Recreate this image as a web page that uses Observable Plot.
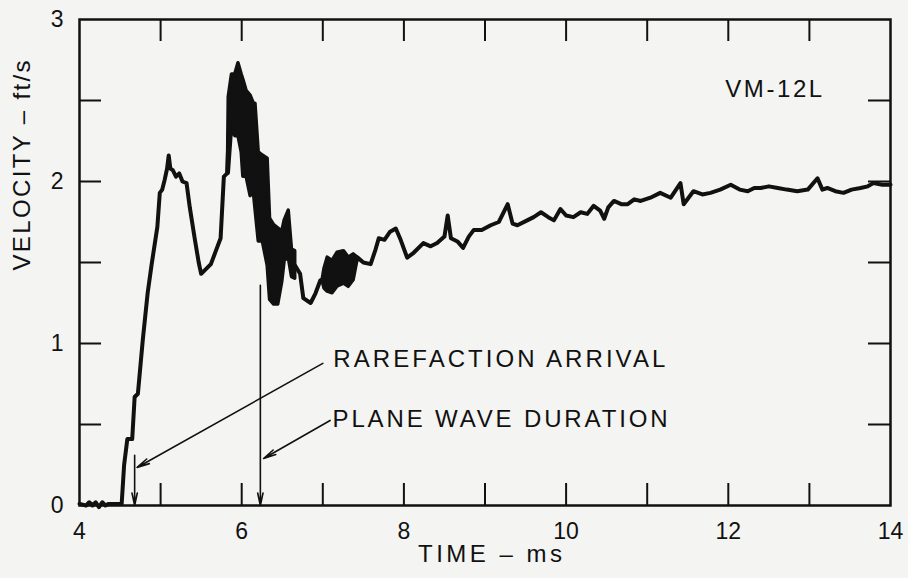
<!DOCTYPE html>
<html><head><meta charset="utf-8">
<script src="https://cdn.jsdelivr.net/npm/d3@7"></script>
<script src="https://cdn.jsdelivr.net/npm/@observablehq/plot@0.6"></script>
<style>
html,body{margin:0;padding:0;background:#f4f4f2;}
#chart svg{display:block;}
</style></head><body><div id="chart"></div>
<script>
// ---- data ----
const timeMs = [4.00,4.08,4.12,4.16,4.20,4.24,4.28,4.32,4.36,4.52,4.55,4.59,4.65,4.68,4.72,4.78,4.84,4.89,4.96,4.99,
5.02,5.05,5.08,5.10,5.12,5.15,5.19,5.23,5.27,5.32,5.36,5.42,5.47,5.50,5.54,5.58,5.62,5.68,5.74,5.78,
5.82,5.84,5.88,5.92,5.96,6.00,6.02,6.06,6.11,6.15,6.17,6.21,6.26,6.32,6.35,6.40,6.45,6.50,6.53,6.58,
6.62,6.66,6.72,6.76,6.85,6.91,6.97,7.02,7.06,7.12,7.18,7.26,7.32,7.38,7.43,7.50,7.59,7.65,7.69,7.76,
7.83,7.90,7.96,8.04,8.12,8.24,8.33,8.41,8.50,8.54,8.58,8.66,8.73,8.80,8.86,8.96,9.07,9.17,9.28,9.34,
9.40,9.52,9.60,9.69,9.78,9.85,9.93,10.00,10.09,10.18,10.26,10.34,10.42,10.47,10.52,10.59,10.68,10.76,10.84,10.92,
11.04,11.16,11.29,11.41,11.45,11.57,11.68,11.78,11.90,12.03,12.14,12.24,12.32,12.40,12.50,12.61,12.72,12.85,12.98,13.10,
13.16,13.22,13.32,13.42,13.52,13.63,13.72,13.79,13.90,14.00];
const velocity = [0.01,0.00,0.02,0.00,0.02,-0.01,0.02,0.00,0.01,0.01,0.25,0.41,0.41,0.67,0.69,1.02,1.31,1.49,1.72,1.93,
1.95,2.01,2.08,2.16,2.08,2.07,2.03,2.05,2.00,1.99,1.84,1.65,1.50,1.43,1.45,1.47,1.49,1.57,1.65,2.03,
2.05,2.30,2.50,2.48,2.52,2.42,2.33,2.30,2.22,2.21,2.16,1.91,1.90,1.82,1.52,1.48,1.47,1.54,1.64,1.68,
1.50,1.48,1.43,1.28,1.25,1.31,1.39,1.40,1.42,1.41,1.45,1.47,1.44,1.47,1.53,1.50,1.49,1.58,1.65,1.64,
1.69,1.71,1.64,1.53,1.56,1.62,1.60,1.62,1.66,1.79,1.65,1.63,1.59,1.66,1.70,1.70,1.73,1.75,1.86,1.74,
1.73,1.76,1.78,1.81,1.78,1.76,1.83,1.79,1.78,1.81,1.80,1.85,1.82,1.77,1.84,1.88,1.86,1.86,1.89,1.88,
1.90,1.93,1.90,1.99,1.86,1.94,1.92,1.93,1.95,1.98,1.95,1.94,1.96,1.96,1.97,1.96,1.95,1.94,1.95,2.02,
1.95,1.96,1.94,1.93,1.95,1.96,1.97,1.99,1.98,1.98];

// noisy (filled) portions of the trace: envelope low/high
const bandSegment = ["a","a","a","a","a","a","a","a","a","a","a","a","a","a","a","a","a","a","a","a","a","a",
"b","b","b","b","b","b","b","b","b"];
const bandTime = [5.83,5.84,5.88,5.92,5.96,6.00,6.02,6.06,6.11,6.15,6.17,6.21,6.26,6.32,6.35,6.40,6.45,6.50,6.53,6.58,6.62,6.66,
7.00,7.02,7.06,7.12,7.18,7.26,7.32,7.38,7.43];
const bandLow = [2.05,2.05,2.33,2.28,2.28,2.18,2.03,2.03,1.91,1.93,1.83,1.63,1.63,1.48,1.27,1.24,1.24,1.38,1.51,1.53,1.41,1.40,
1.38,1.34,1.32,1.31,1.35,1.37,1.35,1.39,1.52];
const bandHigh = [2.05,2.52,2.66,2.66,2.73,2.66,2.63,2.56,2.53,2.48,2.48,2.18,2.16,2.14,1.77,1.73,1.71,1.69,1.76,1.82,1.58,1.57,
1.40,1.46,1.53,1.51,1.56,1.57,1.53,1.55,1.53];

// axes
const xLabelTicks = [4, 6, 8, 10, 12, 14];
const xMinorTicks = [5, 6, 7, 8, 9, 10, 11, 12, 13];
const yLabelTicks = [0, 1, 2, 3];
const yMinorTicks = [0.5, 1, 1.5, 2, 2.5];
const xTitle = "TIME – ms";
const yTitle = "VELOCITY – ft/s";
const gaugeName = "VM-12L";

// annotations
const noteText = ["RAREFACTION ARRIVAL", "PLANE WAVE DURATION"];
const noteTime = [7.13, 7.12];
const noteVel = [0.905, 0.53];
const arrowT1 = [4.68, 6.23, 7.00, 7.09];
const arrowV1 = [0.31, 1.36, 0.877, 0.525];
const arrowT2 = [4.68, 6.23, 4.71, 6.27];
const arrowV2 = [0.0, 0.0, 0.235, 0.29];

// ---- tables ----
const trace = timeMs.map((t, i) => ({t, v: velocity[i]}));
const band = bandTime.map((t, i) => ({t, lo: bandLow[i], hi: bandHigh[i], s: bandSegment[i]}));
const notes = noteText.map((text, i) => ({text, t: noteTime[i], v: noteVel[i]}));
const arrows = arrowT1.map((t1, i) => ({t1, v1: arrowV1[i], t2: arrowT2[i], v2: arrowV2[i]}));

const ink = "#111";
const chart = Plot.plot({
  width: 908, height: 578,
  marginLeft: 79, marginRight: 18, marginTop: 19, marginBottom: 73,
  style: {background: "#f4f4f2", color: ink, fontFamily: "'Liberation Sans', Arial, sans-serif"},
  x: {domain: [4, 14]},
  y: {domain: [0, 3]},
  marks: [
    Plot.axisX({ticks: xLabelTicks, tickFormat: d => String(d), tickSize: 0, tickPadding: 17, fontSize: 23, label: null}),
    Plot.axisY({ticks: yLabelTicks, tickFormat: d => String(d), tickSize: 0, tickPadding: 16, fontSize: 23, label: null}),
    Plot.tickX(xMinorTicks, {x: d => d, insetTop: 464, stroke: ink, strokeWidth: 2}),
    Plot.tickX(xMinorTicks, {x: d => d, insetBottom: 464, stroke: ink, strokeWidth: 2}),
    Plot.tickY(yMinorTicks, {y: d => d, insetRight: 789, stroke: ink, strokeWidth: 2}),
    Plot.tickY(yMinorTicks, {y: d => d, insetLeft: 789, stroke: ink, strokeWidth: 2}),
    Plot.frame({stroke: ink, strokeWidth: 2.5}),
    Plot.areaY(band, {x: "t", y1: "lo", y2: "hi", z: "s", fill: ink, stroke: ink, strokeWidth: 3.5, strokeLinejoin: "round"}),
    Plot.line(trace, {x: "t", y: "v", stroke: ink, strokeWidth: 4, strokeLinejoin: "round", strokeLinecap: "round"}),
    Plot.arrow(arrows, {x1: "t1", y1: "v1", x2: "t2", y2: "v2", stroke: ink, strokeWidth: 1.6, headLength: 12, headAngle: 24}),
    Plot.text(notes, {x: "t", y: "v", text: "text", textAnchor: "start", lineAnchor: "middle", fontSize: 24, fill: ink}),
    Plot.text([gaugeName], {x: () => 12.56, y: () => 2.57, text: d => d, fontSize: 24, fill: ink}),
    Plot.text([xTitle], {frameAnchor: "bottom", dx: 5, dy: 56, text: d => d, fontSize: 24, fill: ink}),
    Plot.text([yTitle], {frameAnchor: "left", rotate: -90, dx: -57, dy: 8, text: d => d, fontSize: 24, fill: ink})
  ]
});
document.getElementById("chart").append(chart);

// stretch lettering to the widths of the reference typography
const fit = {"RAREFACTION ARRIVAL": 332, "PLANE WAVE DURATION": 335, "VM-12L": 97, "TIME – ms": 144, "VELOCITY – ft/s": 210};
d3.select(chart).selectAll("text").each(function () {
  const s = this.textContent;
  if (fit[s]) d3.select(this).attr("textLength", fit[s]).attr("lengthAdjust", "spacing");
});
</script></body></html>
